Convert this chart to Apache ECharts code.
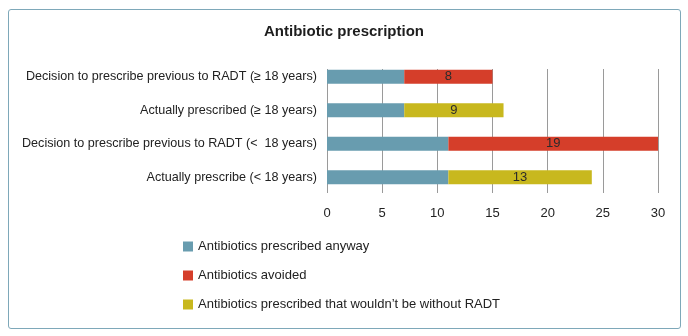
<!DOCTYPE html>
<html>
<head>
<meta charset="utf-8">
<script src="https://cdn.jsdelivr.net/npm/echarts@6/dist/echarts.min.js"></script>
<style>
  html, body { margin: 0; padding: 0; background: #fff; }
  #frame {
    position: absolute; left: 8px; top: 9px; width: 671px; height: 318px;
    border: 1px solid #7ea8b9; border-radius: 3px;
  }
  #chart { position: absolute; left: 0; top: 0; width: 688px; height: 336px; }
</style>
</head>
<body>
<div id="frame"></div>
<div id="chart"></div>
<script>
// Categories, top to bottom
const categories = [
  'Decision to prescribe previous to RADT (\u2265 18 years)',
  'Actually prescribed (\u2265 18 years)',
  'Decision to prescribe previous to RADT (<  18 years)',
  'Actually prescribe (< 18 years)'
]
const seriesNames = [
  'Antibiotics prescribed anyway',
  'Antibiotics avoided',
  'Antibiotics prescribed that wouldn\u2019t be without RADT'
]
const prescribedAnyway = [7, 7, 11, 11]
const avoided = [8, null, 19, null]
const wouldntBe = [null, 9, null, 13]
const xTicks = [0, 5, 10, 15, 20, 25, 30]

const colors = ['#689caf', '#d53e2a', '#c8b81e']
const fontFamily = '"Liberation Sans", sans-serif'

const chart = echarts.init(document.getElementById('chart'), null, { renderer: 'canvas' })

const segLabel = {
  show: true,
  position: 'inside',
  color: '#2b2b2b',
  fontSize: 13,
  fontFamily
}

const xMin = xTicks[0]
const xMax = xTicks[xTicks.length - 1]

const option = {
  animation: false,
  textStyle: { fontFamily },
  title: {
    text: 'Antibiotic prescription',
    left: 'center',
    top: 19,
    textStyle: { fontSize: 15, fontWeight: 'bold', color: '#1e1e1e', fontFamily }
  },
  legend: {
    orient: 'vertical',
    left: 178,
    top: 235,
    itemWidth: 10,
    itemHeight: 10,
    itemGap: 16,
    icon: 'rect',
    textStyle: { fontSize: 13, color: '#222', fontFamily },
    data: seriesNames
  },
  grid: [
    // bars
    { left: 327, right: 30, top: 60, height: 134 },
    // gridlines only (they start a bit below the top of the bar band)
    { left: 327, right: 30, top: 69, height: 124 }
  ],
  xAxis: [
    {
      type: 'value',
      gridIndex: 0,
      min: xMin,
      max: xMax,
      interval: 5,
      axisLine: { show: false },
      axisTick: { show: false },
      axisLabel: { color: '#222', fontSize: 13, margin: 13, fontFamily },
      splitLine: { show: false }
    },
    {
      type: 'value',
      gridIndex: 1,
      min: xMin,
      max: xMax,
      interval: 5,
      axisLine: { show: false },
      axisTick: { show: false },
      axisLabel: { show: false },
      splitLine: { show: true, lineStyle: { color: '#9a9a9a', width: 1 } }
    }
  ],
  yAxis: [
    {
      type: 'category',
      gridIndex: 0,
      inverse: true,
      data: categories,
      axisLine: { show: false },
      axisTick: { show: false },
      axisLabel: { color: '#222', fontSize: 12.6, margin: 10, fontFamily }
    },
    {
      type: 'value',
      gridIndex: 1,
      show: false,
      min: 0,
      max: 1,
      splitLine: { show: false }
    }
  ],
  series: [
    {
      name: seriesNames[0],
      type: 'bar',
      stack: 'total',
      barWidth: 14,
      z: 3,
      itemStyle: { color: colors[0] },
      data: prescribedAnyway
    },
    {
      name: seriesNames[1],
      type: 'bar',
      stack: 'total',
      barWidth: 14,
      z: 3,
      itemStyle: { color: colors[1] },
      label: segLabel,
      data: avoided
    },
    {
      name: seriesNames[2],
      type: 'bar',
      stack: 'total',
      barWidth: 14,
      z: 3,
      itemStyle: { color: colors[2] },
      label: segLabel,
      data: wouldntBe
    },
    {
      // empty series so the gridline grid is rendered
      type: 'line',
      xAxisIndex: 1,
      yAxisIndex: 1,
      data: [],
      silent: true
    }
  ]
}

chart.setOption(option)
</script>
</body>
</html>
